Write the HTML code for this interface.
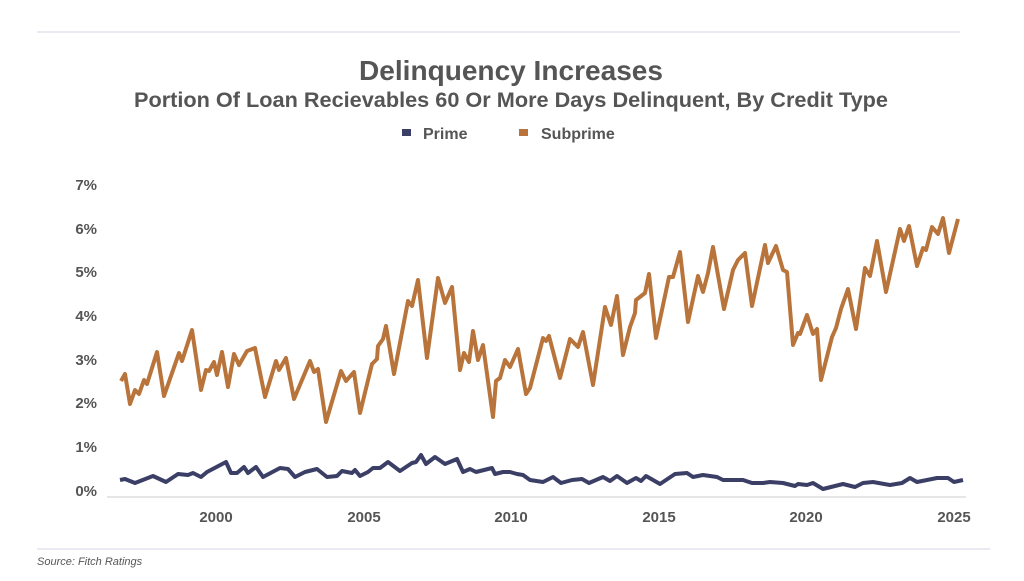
<!DOCTYPE html>
<html><head><meta charset="utf-8"><style>
body{margin:0;background:#fff;width:1024px;height:576px;overflow:hidden;font-family:"Liberation Sans",sans-serif}
</style></head><body>
<svg width="1024" height="576" viewBox="0 0 1024 576" xmlns="http://www.w3.org/2000/svg" font-family="Liberation Sans, sans-serif">
<line x1="37" y1="32" x2="960" y2="32" stroke="#d6d4e6" stroke-width="1"/>
<line x1="37" y1="549" x2="990" y2="549" stroke="#d6d4e6" stroke-width="1"/>
<text x="511" y="80" text-anchor="middle" font-size="28" font-weight="bold" fill="#555" textLength="304" lengthAdjust="spacingAndGlyphs">Delinquency Increases</text>
<text x="511" y="107" text-anchor="middle" font-size="21" font-weight="bold" fill="#555" textLength="754" lengthAdjust="spacingAndGlyphs">Portion Of Loan Recievables 60 Or More Days Delinquent, By Credit Type</text>
<rect x="402" y="129" width="9" height="7" fill="#3b3f66"/>
<text x="423" y="139" font-size="16" font-weight="bold" fill="#555">Prime</text>
<rect x="519" y="129" width="9" height="7" fill="#b8743a"/>
<text x="541" y="139" font-size="16" font-weight="bold" fill="#555">Subprime</text>
<g font-size="15" font-weight="bold" fill="#555" text-anchor="end">
<text x="97" y="496">0%</text><text x="97" y="452">1%</text><text x="97" y="408">2%</text><text x="97" y="365">3%</text><text x="97" y="321">4%</text><text x="97" y="277">5%</text><text x="97" y="234">6%</text><text x="97" y="190">7%</text>
</g>
<line x1="107" y1="497" x2="966" y2="497" stroke="#ddd" stroke-width="1.5"/>
<g font-size="15" font-weight="bold" fill="#555" text-anchor="middle">
<text x="216" y="522">2000</text><text x="364" y="522">2005</text><text x="511" y="522">2010</text><text x="659" y="522">2015</text><text x="806" y="522">2020</text><text x="954" y="522">2025</text>
</g>
<polyline fill="none" stroke="#b8743a" stroke-width="4" stroke-linejoin="round" points="121,381 125,374 130,404 135,390 139,394 144,380 147,384 157,352 164,396 179,353 182,361 192,330 201,390 206,370 209,371 214,362 217,375 222,352 228,387 234,354 239,365 247,351 255,348 265,397 276,361 279,370 286,358 294,399 310,361 314,372 318,369 326,422 341,371 346,381 354,372 360,413 372,364 377,359 378,346 383,339 386,326 394,374 408,301 412,306 418,280 427,358 438,278 445,303 452,287 460,370 464,353 469,362 473,331 478,360 483,345 493,417 496,381 500,378 505,360 510,367 518,349 526,394 530,388 543,338 546,341 549,336 560,378 570,339 578,347 583,332 593,385 605,307 611,325 617,296 623,355 630,327 635,313 636,300 645,293 649,274 656,338 669,277 673,277 680,252 688,322 698,276 703,292 708,273 713,247 724,309 733,270 738,260 745,253 752,306 765,245 768,263 776,246 783,270 787,272 793,345 798,333 800,334 807,315 813,334 817,329 821,380 832,337 836,328 841,309 848,289 856,329 865,268 870,276 877,241 886,292 900,229 904,241 909,226 917,266 923,248 926,250 932,227 938,234 943,218 949,253 958,219"/>
<polyline fill="none" stroke="#3b3f66" stroke-width="4" stroke-linejoin="round" points="120,480 125,479 135,483 153,476 166,482 178,474 188,475 193,473 201,477 207,472 226,462 231,473 237,473 244,467 248,473 256,467 263,477 280,468 288,469 295,477 305,472 317,469 327,477 337,476 342,471 352,473 355,470 360,476 368,472 373,468 380,468 388,462 400,471 412,463 416,462 421,455 426,464 435,457 445,464 457,459 463,472 470,469 476,472 492,468 495,474 503,472 510,472 517,474 523,475 530,480 543,482 553,477 561,483 572,480 582,479 589,483 603,477 610,481 617,476 627,483 636,478 641,481 646,476 660,484 675,474 687,473 693,477 703,475 717,477 723,480 743,480 752,483 763,483 770,482 783,483 795,486 798,484 807,485 813,483 823,489 843,484 855,487 863,483 873,482 890,485 902,483 910,478 917,482 937,478 948,478 954,482 963,480"/>
<text x="37" y="565" font-size="11" font-style="italic" fill="#555">Source: Fitch Ratings</text>
</svg>
</body></html>
